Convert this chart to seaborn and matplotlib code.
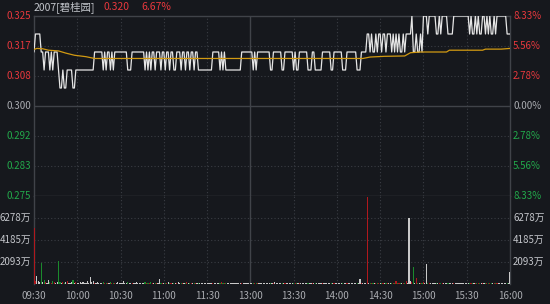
import numpy as np
import pandas as pd
import matplotlib
matplotlib.use("Agg")
import matplotlib.pyplot as plt
import seaborn as sns
from matplotlib.transforms import blended_transform_factory as btf

# ---------------- data ----------------
prev_close = 0.300
tick_size = 0.005
# per-minute price in ticks above previous close (0.305=1 ... 0.325=5), minutes 0..330
price_steps = (
    [3, 4, 4, 4, 4, 3, 3, 2, 3, 3, 3, 2, 3, 2, 3, 3, 3]
    + [2, 1, 1, 2, 1, 1, 2, 2, 2, 2, 1, 1, 2] + [2] * 12
    + [3] * 6 + [2, 3, 2, 3, 3, 2, 3, 2] + [3] * 9 + [2, 2, 2] + [3] * 9
    + [2, 3, 2, 3, 2, 3, 3, 2, 3, 3, 3, 2, 3, 3, 2]
    + [3, 3, 2, 3, 3, 2, 2, 3, 3, 3, 2, 3, 3, 2]
    + [3, 3, 2, 3, 3, 2, 3, 3, 2]
    + [2] * 9 + [3] * 5 + [2, 3, 2, 3, 2] + [2] * 10 + [3] * 8 + [2, 3, 2]
    + [3] * 9 + [2, 2] + [3] * 6 + [2, 2] + [3] * 6 + [2, 3, 2, 2] + [3] * 6
    + [2, 2, 2, 3, 3, 2, 2, 2, 2, 2] + [3] * 6 + [2, 2, 3] + [3] * 5 + [2, 2, 2]
    + [3] * 7 + [2, 2, 2] + [3, 3, 3, 3]
    + [4, 4, 3, 4, 3, 3, 4, 3, 4, 4, 3] + [4, 4, 3, 4, 4, 4, 3, 4]
    + [3, 4, 3, 4, 3, 3, 4, 3, 4, 4, 4, 4] + [5] + [3, 3, 4, 3, 3, 4, 3]
    + [5, 5, 5, 4, 5, 5] + [5, 5, 5] + [4, 4, 5, 4] + [5, 5, 5, 5] + [4, 4, 4, 4, 5]
    + [5] * 10 + [4, 5, 4, 4, 5, 4, 5, 4, 4, 5, 5] + [4, 5, 4, 5, 4, 4, 5, 4, 5]
    + [5] * 6 + [4, 4, 4]
)

avg_minutes = [0, 2, 6, 10, 17, 22, 28, 36, 42, 228, 233, 243, 257, 261, 268,
               286, 288, 311, 313, 324, 330]
avg_prices = [0.3157, 0.3160, 0.3159, 0.3155, 0.3153, 0.3147, 0.3141, 0.3137,
              0.3132, 0.3132, 0.3136, 0.3138, 0.3139, 0.3148, 0.3150, 0.3150,
              0.3155, 0.3155, 0.3158, 0.3158, 0.3160]

# per-minute volume, in 万 shares
volumes = (
    [5350, 300, 760, 250, 230, 2000, 180, 350, 230, 140, 380, 210, 110, 260, 180, 80, 200, 2200, 160, 140, 230, 110, 180, 300, 140, 80, 210, 380, 110, 180]
    + [140, 80, 230, 110, 180, 80, 140, 300, 110, 650, 160, 300, 110, 80, 180, 110, 80, 140, 200, 110, 80, 140, 110, 160, 80, 110, 140, 80, 180, 110]
    + [80, 140, 330, 110, 80, 160, 110, 80, 140, 80, 110, 180, 80, 110, 140, 80, 110, 160, 80, 110, 140, 180, 80, 110, 80, 140, 110, 480, 110, 80]
    + [140, 110, 80, 180, 110, 80, 140, 110, 80, 110, 160, 80, 110, 140, 80, 110, 180, 80, 110, 140, 80, 110, 80, 140, 110, 80, 110, 80, 140, 110]
    + [80, 110, 140, 80, 110, 80, 140, 110, 80, 110, 180, 80, 110, 80, 140, 110, 80, 110, 140, 80, 110, 80, 110, 140, 80, 110, 80, 140, 110, 80]
    + [110, 140, 80, 110, 80, 140, 110, 80, 110, 140, 80, 110, 80, 140, 110, 80, 110, 160, 80, 110, 80, 140, 110, 80, 110, 80, 140, 110, 80, 110]
    + [140, 80, 110, 80, 140, 110, 80, 110, 140, 80, 110, 80, 140, 110, 80, 110, 140, 80, 110, 80, 140, 110, 80, 110, 80, 140, 110, 80, 110, 140]
    + [80, 110, 80, 140, 110, 80, 110, 140, 80, 110, 80, 140, 110, 80, 110, 80, 480, 110, 80, 140, 110, 8300, 140, 110, 80, 140, 110, 80, 110, 140]
    + [80, 110, 140, 80, 110, 80, 140, 110, 80, 110, 140, 330, 110, 80, 140, 110, 80, 110, 250, 140, 6250, 300, 180, 1600, 140, 580, 110, 80, 140, 110]
    + [180, 140, 1900, 110, 80, 140, 110, 80, 110, 140, 80, 110, 140, 80, 110, 80, 140, 110, 80, 110, 140, 80, 110, 80, 140, 110, 80, 110, 140, 80]
    + [110, 80, 140, 110, 80, 110, 140, 80, 110, 80, 140, 110, 80, 110, 140, 80, 110, 80, 140, 110, 80, 110, 140, 80, 110, 80, 140, 110, 80, 110, 1150]
)

time_minutes = [0, 30, 60, 90, 120, 150, 180, 210, 240, 270, 300, 330]
time_labels = ["09:30", "10:00", "10:30", "11:00", "11:30", "13:00",
               "13:30", "14:00", "14:30", "15:00", "15:30", "16:00"]
price_levels = [0.325, 0.31667, 0.30833, 0.300, 0.29167, 0.28333, 0.275]
price_labels = ["0.325", "0.317", "0.308", "0.300", "0.292", "0.283", "0.275"]
pct_labels = ["8.33%", "5.56%", "2.78%", "0.00%", "2.78%", "5.56%", "8.33%"]
vol_levels = [6278, 4185, 2093]
vol_labels = ["6278万", "4185万", "2093万"]
vol_top = 8372
title_name = "2007[碧桂园]"
title_price = "0.320"
title_pct = "6.67%"

# ---------------- style ----------------
BG = "#16181d"
RED = "#e8383d"
GREEN = "#22a94b"
GRAY = "#a9abb0"
GRID_SOLID = "#404349"
GRID_DOT = "#3a3d44"

sns.set_style("dark")
plt.rcParams["font.family"] = ["Noto Sans CJK SC", "DejaVu Sans"]

n = len(price_steps)
minutes = np.arange(n)
prices = prev_close + tick_size * np.array(price_steps)
prev = np.concatenate([[prev_close], prices[:-1]])
direction = np.where(prices > prev + 1e-9, "up", np.where(prices < prev - 1e-9, "down", "flat"))
df_vol = pd.DataFrame({"minute": minutes, "vol": volumes[:n], "dir": direction})

fig = plt.figure(figsize=(5.5, 3.04), dpi=100, facecolor=BG)
L, Wd = 34 / 550, 476 / 550
ax_p = fig.add_axes([L, 1 - 196 / 304, Wd, 180 / 304])
ax_v = fig.add_axes([L, 1 - 284 / 304, Wd, 88 / 304])

for ax in (ax_p, ax_v):
    ax.set_facecolor(BG)
    ax.grid(False)
    for s in ax.spines.values():
        s.set_color(GRID_SOLID)
        s.set_linewidth(1.0)
    for m in time_minutes[1:-1]:
        if m == 150:
            ax.axvline(m, color=GRID_SOLID, lw=1.0, zorder=0.5)
        else:
            ax.axvline(m, color=GRID_DOT, lw=0.8, ls=(0, (1, 2)), zorder=0.5)
ax_v.spines["bottom"].set_visible(False)
ax_v.spines["top"].set_visible(False)

for lv in price_levels[1:-1]:
    if abs(lv - prev_close) < 1e-6:
        ax_p.axhline(lv, color=GRID_SOLID, lw=1.0, zorder=0.5)
    else:
        ax_p.axhline(lv, color=GRID_DOT, lw=0.8, ls=(0, (1, 2)), zorder=0.5)

for lv in vol_levels:
    ax_v.axhline(lv, color=GRID_DOT, lw=0.8, ls=(0, (1, 2)), zorder=0.5)

# price and average lines
sns.lineplot(x=minutes, y=prices, ax=ax_p, color="#e6e6e6", lw=0.9, estimator=None, zorder=3)
sns.lineplot(x=avg_minutes, y=avg_prices, ax=ax_p, color="#d29a12", lw=0.9, estimator=None, zorder=4)

# volume bars
sns.barplot(data=df_vol, x="minute", y="vol", hue="dir",
            palette={"up": "#b0181d", "down": "#1b8a2c", "flat": "#c9c9c9"},
            native_scale=True, dodge=False, width=0.8, errorbar=None,
            legend=False, saturation=1, linewidth=0, antialiased=False,
            ax=ax_v, zorder=3)

for ax in (ax_p, ax_v):
    ax.set_xlim(0, 330)
    ax.set_xticks([])
    ax.set_yticks([])
    ax.set_xlabel("")
    ax.set_ylabel("")
ax_p.set_ylim(0.275, 0.325)
ax_v.set_ylim(0, vol_top)

# labels
FS = 7
tl = btf(fig.transFigure, ax_p.transData)
for lv, lab, pct in zip(price_levels, price_labels, pct_labels):
    if lv > prev_close + 1e-6:
        c = RED
    elif lv < prev_close - 1e-6:
        c = GREEN
    else:
        c = GRAY
    ax_p.text(31 / 550, lv, lab, transform=tl, ha="right", va="center", color=c, fontsize=FS, clip_on=False)
    ax_p.text(513 / 550, lv, pct, transform=tl, ha="left", va="center", color=c, fontsize=FS, clip_on=False)

tv = btf(fig.transFigure, ax_v.transData)
for lv, lab in zip(vol_levels, vol_labels):
    ax_v.text(31 / 550, lv, lab, transform=tv, ha="right", va="center", color="#c4c6cb", fontsize=FS, clip_on=False)
    ax_v.text(513 / 550, lv, lab, transform=tv, ha="left", va="center", color="#c4c6cb", fontsize=FS, clip_on=False)

tx = btf(ax_v.transData, fig.transFigure)
for m, lab in zip(time_minutes, time_labels):
    ax_v.text(m, 1 - 296 / 304, lab, transform=tx, ha="center", va="center", color=GRAY, fontsize=FS, clip_on=False)

fig.text(34 / 550, 1 - 7.5 / 304, title_name, ha="left", va="center", color="#c3c6cc", fontsize=7.5)
fig.text(103 / 550, 1 - 7.5 / 304, title_price, ha="left", va="center", color=RED, fontsize=7.5)
fig.text(141 / 550, 1 - 7.5 / 304, title_pct, ha="left", va="center", color=RED, fontsize=7.5)

fig.savefig("out.png", dpi=100, facecolor=BG)
